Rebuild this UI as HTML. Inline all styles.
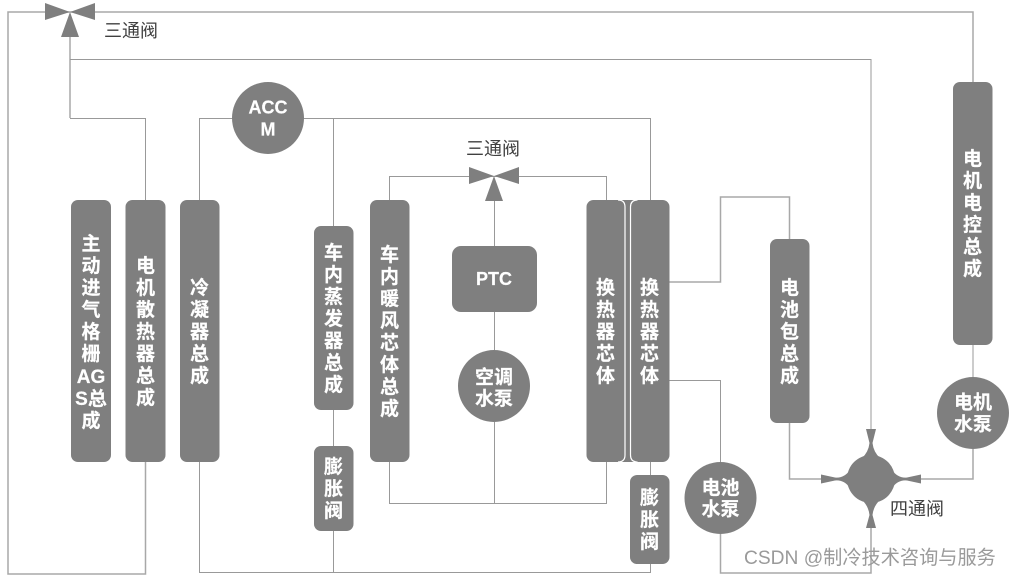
<!DOCTYPE html>
<html><head><meta charset="utf-8"><style>
html,body{margin:0;padding:0;background:#fff;width:1010px;height:577px;overflow:hidden}
svg{display:block}
.l{fill:none;stroke:#999;stroke-width:1}
.b{fill:none;stroke:#a8a8a8;stroke-width:1.5}
.s{fill:#7f7f7f}
.t text{font-family:"Liberation Sans","Noto Sans CJK SC",sans-serif;font-weight:700;font-size:19px;fill:#fff;stroke:#fff;stroke-width:.2;text-anchor:middle}
.t text.e{font-size:18px}
.c{font-family:"Liberation Sans","Noto Sans CJK SC",sans-serif;font-size:18px;fill:#404040}
.w{font-family:"Liberation Sans","Noto Sans CJK SC",sans-serif;font-size:19.2px;fill:#9a9a9a}
</style></head><body>
<svg width="1010" height="577" viewBox="0 0 1010 577" xmlns="http://www.w3.org/2000/svg">
<g class="b">
<path d="M70 12H8V574H145.500V462"/>
<path d="M70 12H973V82"/>
<path d="M70 37V118"/>
<path d="M720.500 534V573H871V528"/>
<path d="M789.500 423V479H822"/>
<path d="M973 449V479H920"/>
<path d="M669 282H720.500V197H789.500V239"/>
</g>
<g class="l">
<path d="M70 118.500H145.500V200"/>
<path d="M70 59.500H871V430"/>
<path d="M199.500 200V118.500H650.500V200"/>
<path d="M333.500 118V226M333.500 410V446M333.500 531V572"/>
<path d="M199.500 462V572.500H650.500V564M650.500 462V475"/>
<path d="M389.500 200V176.500H606.500V200"/>
<path d="M494.500 201V246M494.500 312V350M494.500 422V503"/>
<path d="M389.500 462V503.500H606.500V462"/>
<path d="M669 380.500H720.500V462"/>
<path d="M973 345V377"/>
</g>
<g class="s">
<path d="M45 3V20L70 12ZM95 3V20L70 12ZM70 12L61 37H79Z"/>
<path d="M469 167V184L494 176ZM519 167V184L494 176ZM494 176L485 201H503Z"/>
<rect x="71" y="200" width="40" height="262" rx="7"/>
<rect x="125.500" y="200" width="40" height="262" rx="7"/>
<rect x="180" y="200" width="39.500" height="262" rx="7"/>
<rect x="314" y="226" width="39.500" height="184" rx="7"/>
<rect x="314" y="446" width="39.500" height="85" rx="7"/>
<rect x="370" y="200" width="39.500" height="262" rx="7"/>
<rect x="452" y="246" width="85" height="66" rx="9"/>
<rect x="630" y="475" width="39.500" height="89" rx="7"/>
<rect x="770" y="239" width="39.500" height="184" rx="7"/>
<rect x="953" y="82" width="39.500" height="263" rx="7"/>
<circle cx="268" cy="118" r="36"/>
<circle cx="494" cy="386" r="36"/>
<circle cx="720.500" cy="498" r="36"/>
<circle cx="973" cy="413" r="36"/>
<circle cx="871" cy="479" r="24"/>
<path d="M866 429H876L872.500 443Q873.500 452 880 458H862Q868.500 452 869.500 443Z"/>
<path d="M866 528H876L872.500 515Q873.500 506 880 500H862Q868.500 506 869.500 515Z"/>
<path d="M821 474.500V483.500L835 480.500Q844 479.500 850 488V470Q844 478.500 835 477.500Z"/>
<path d="M921 474.500V483.500L907 480.500Q898 479.500 892 488V470Q898 478.500 907 477.500Z"/>
<rect x="586.500" y="200" width="83" height="262" rx="7"/>
</g>
<path d="M618 200Q625 200 625 207V455Q625 462 618 462M637.500 200Q630.500 200 630.500 207V455Q630.500 462 637.500 462" fill="none" stroke="#fff" stroke-width="1.200"/>
<g class="t">
<text x="91" y="250">主</text><text x="91" y="272">动</text><text x="91" y="294">进</text><text x="91" y="316">气</text><text x="91" y="338">格</text><text x="91" y="360">栅</text><text x="91" y="383">AG</text><text x="91" y="405">S总</text><text x="91" y="427">成</text>
<text x="145.500" y="272">电</text><text x="145.500" y="294">机</text><text x="145.500" y="316">散</text><text x="145.500" y="338">热</text><text x="145.500" y="360">器</text><text x="145.500" y="382">总</text><text x="145.500" y="404">成</text>
<text x="199.500" y="294">冷</text><text x="199.500" y="316">凝</text><text x="199.500" y="338">器</text><text x="199.500" y="360">总</text><text x="199.500" y="382">成</text>
<text x="333.500" y="259">车</text><text x="333.500" y="281">内</text><text x="333.500" y="303">蒸</text><text x="333.500" y="325">发</text><text x="333.500" y="347">器</text><text x="333.500" y="369">总</text><text x="333.500" y="391">成</text>
<text x="333.500" y="473">膨</text><text x="333.500" y="495">胀</text><text x="333.500" y="517">阀</text>
<text x="389.500" y="261">车</text><text x="389.500" y="283">内</text><text x="389.500" y="305">暖</text><text x="389.500" y="327">风</text><text x="389.500" y="349">芯</text><text x="389.500" y="371">体</text><text x="389.500" y="393">总</text><text x="389.500" y="415">成</text>
<text class="e" x="494" y="285">PTC</text>
<text x="494" y="383.500">空调</text><text x="494" y="405">水泵</text>
<text x="605.500" y="294">换</text><text x="605.500" y="316">热</text><text x="605.500" y="338">器</text><text x="605.500" y="360">芯</text><text x="605.500" y="382">体</text>
<text x="649.500" y="294">换</text><text x="649.500" y="316">热</text><text x="649.500" y="338">器</text><text x="649.500" y="360">芯</text><text x="649.500" y="382">体</text>
<text x="649.500" y="504">膨</text><text x="649.500" y="526">胀</text><text x="649.500" y="548">阀</text>
<text x="720.500" y="494">电池</text><text x="720.500" y="515.500">水泵</text>
<text x="789.500" y="294">电</text><text x="789.500" y="316">池</text><text x="789.500" y="338">包</text><text x="789.500" y="360">总</text><text x="789.500" y="382">成</text>
<text x="972.500" y="165">电</text><text x="972.500" y="187">机</text><text x="972.500" y="209">电</text><text x="972.500" y="231">控</text><text x="972.500" y="253">总</text><text x="972.500" y="275">成</text>
<text x="973" y="408.500">电机</text><text x="973" y="430.500">水泵</text>
<text class="e" x="268" y="113.500">ACC</text><text class="e" x="268" y="135.500">M</text>
</g>
<text class="c" x="104" y="37">三通阀</text>
<text class="c" x="466" y="155">三通阀</text>
<text class="c" x="890" y="515">四通阀</text>
<text class="w" x="744" y="564">CSDN @制冷技术咨询与服务</text>
</svg>
</body></html>
